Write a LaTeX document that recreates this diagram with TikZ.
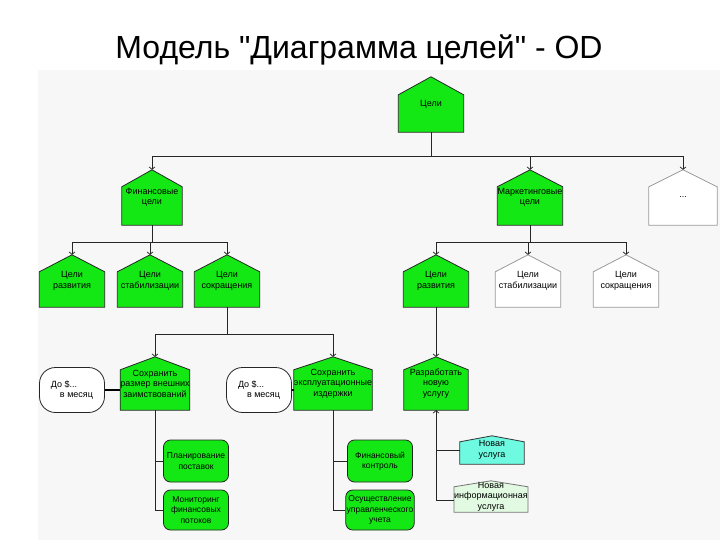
\documentclass[tikz,border=0pt]{standalone}
\usepackage{fontspec}
\setmainfont{Liberation Sans}
\newfontfamily\titlefont{Liberation Sans}
\usetikzlibrary{arrows.meta,positioning,calc,backgrounds}
\definecolor{goalgreen}{RGB}{20,232,20}
\definecolor{newcyan}{RGB}{110,250,225}
\definecolor{newpale}{RGB}{225,250,225}

\begin{document}
\begin{tikzpicture}[x=1pt, y=-1pt, >={Straight Barb[length=2.5pt,width=6pt]},
    goal/.style={rectangle, minimum width=65pt, minimum height=52pt, inner sep=0pt, align=center,
        font=\fontsize{9}{10.5}\selectfont},
    task/.style={rectangle, rounded corners=7pt, draw=black!85, line width=0.8pt, fill=goalgreen,
        minimum width=65pt, inner sep=1pt, align=center, font=\fontsize{8.5}{10.5}\selectfont},
    limit/.style={rectangle, rounded corners=16pt, draw=black!85, line width=0.8pt, fill=white,
        minimum width=65pt, minimum height=45pt, align=left, font=\fontsize{9}{10.5}\selectfont},
    link/.style={line width=0.7pt, black!85}]
    \useasboundingbox (0,0) rectangle (720,540);
    \node [anchor=base, font=\titlefont\fontsize{32}{36}\selectfont] (title) at (359,59) {Модель "Диаграмма целей" - OD};

    % goals tree
    \node [goal, minimum height=55pt] (root) at (431,104.5) {Цели};
    \node [goal, minimum width=60pt, minimum height=55pt] (fin) at (152,197.5) {Финансовые\\цели};
    \node [goal, minimum height=55pt] (mkt) at (530,197.5) {Маркетинговые\\цели};
    \node [goal, minimum width=68pt, minimum height=55pt] (more) at (683,197.5) {...};

    \node [goal] (dev1) at (72,281) {Цели\\развития};
    \node [goal] (stab1) at (150,281) {Цели\\стабилизации};
    \node [goal] (cut1) at (227,281) {Цели\\сокращения};
    \node [goal] (dev2) at (436,281) {Цели\\развития};
    \node [goal] (stab2) at (528,281) {Цели\\стабилизации};
    \node [goal] (cut2) at (626,281) {Цели\\сокращения};

    \node [goal, minimum width=66pt, minimum height=53pt] (keep1) at (155,383.5) {Сохранить\\размер внешних\\заимствований};
    \node [goal, minimum width=64pt, minimum height=53pt] (keep2) at (333,383.5) {Сохранить\\эксплуатационные\\издержки};
    \node [goal, minimum width=64pt, minimum height=53pt] (make) at (436,383.5) {Разработать\\новую\\услугу};

    \node [limit] (lim1) at (72,390) {До \$...\\\hspace{1em}в месяц};
    \node [limit] (lim2) at (259,390) {До \$...\\\hspace{1em}в месяц};

    \node [task, minimum height=42pt] (plan) at (196,461) {Планирование\\поставок};
    \node [task, minimum height=40pt] (watch) at (196,510) {Мониторинг\\финансовых\\потоков};
    \node [task, minimum height=42pt] (ctrl) at (380,461) {Финансовый\\контроль};
    \node [task, minimum height=40pt] (acct) at (380,510) {Осуществление\\управленческого\\учета};

    \node [goal, minimum width=64pt, minimum height=28pt] (svc) at (492,450) {Новая\\услуга};
    \node [goal, minimum width=66pt, minimum height=31pt] (info) at (491,496.5) {Новая\\информационная\\услуга};

    % sheet and house outlines behind the texts
    \begin{scope}[on background layer]
        \fill [black!3] (38,70) rectangle (720,540);
        \foreach \n/\r/\c/\e in {root/18/goalgreen/black!85, fin/17/goalgreen/black!85,
                mkt/17/goalgreen/black!85, more/17/white/black!40,
                dev1/17/goalgreen/black!85, stab1/17/goalgreen/black!85, cut1/17/goalgreen/black!85,
                dev2/17/goalgreen/black!85, stab2/17/white/black!40, cut2/17/white/black!40,
                keep1/13/goalgreen/black!85, keep2/13/goalgreen/black!85, make/13/goalgreen/black!85,
                svc/6/newcyan/black!80, info/6/newpale/black!55}
            \filldraw [fill=\c, draw=\e, line width=0.8pt]
                (\n.south west) -- ($(\n.north west)+(0,\r)$) -- (\n.north)
                -- ($(\n.north east)+(0,\r)$) -- (\n.south east) -- cycle;
    \end{scope}

    % connectors
    \draw [link] (root.south) -- ++(0,24) coordinate (b1);
    \draw [link, ->] (b1) -| (fin.north);
    \draw [link, ->] (b1) -| (mkt.north);
    \draw [link, ->] (b1) -| (more.north);

    \draw [link] (fin.south) -- ++(0,17) coordinate (b2);
    \draw [link, ->] (b2) -| (dev1.north);
    \draw [link, ->] (b2) -| (stab1.north);
    \draw [link, ->] (b2) -| (cut1.north);

    \draw [link] (mkt.south) -- ++(0,17) coordinate (b3);
    \draw [link, ->] (b3) -| (dev2.north);
    \draw [link, ->] (b3) -| (stab2.north);
    \draw [link, ->] (b3) -| (cut2.north);

    \draw [link] (cut1.south) -- ++(0,27) coordinate (b4);
    \draw [link, ->] (b4) -| (keep1.north);
    \draw [link, ->] (b4) -| (keep2.north);
    \draw [link, ->] (dev2.south) -- (make.north);

    \draw [line width=1.6pt] (lim1.east) -- (keep1.west |- lim1.east);
    \draw [line width=1.6pt] (lim2.east) -- (keep2.west |- lim2.east);

    \draw [link] (keep1.south) |- (plan.west);
    \draw [link] (keep1.south) |- (watch.west);
    \draw [link] (keep2.south) |- (ctrl.west);
    \draw [link] (keep2.south) |- (acct.west);
    \draw [link, <-] (make.south) |- (svc.west);
    \draw [link] (make.south) |- ($(info.west)+(0,4)$);
\end{tikzpicture}
\end{document}
